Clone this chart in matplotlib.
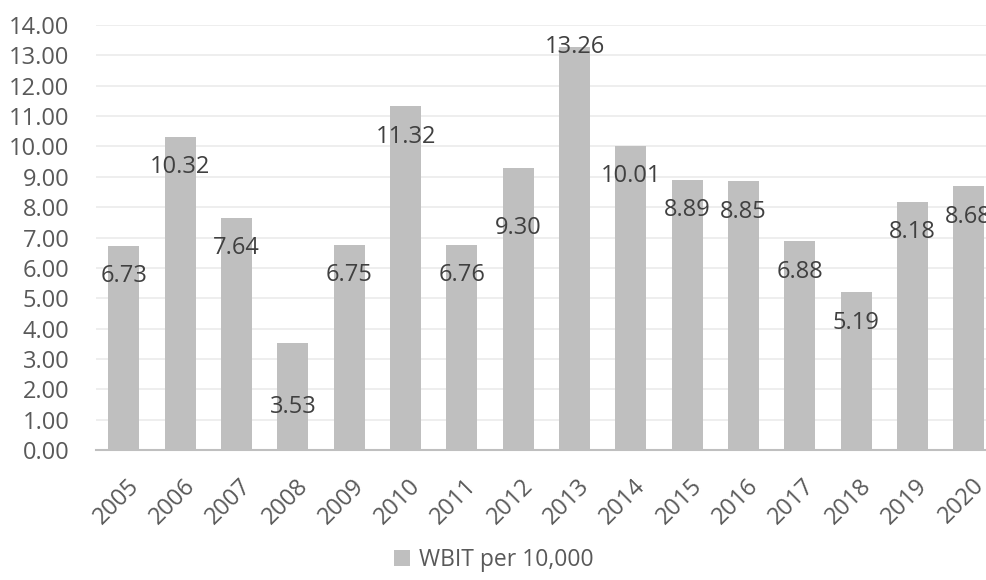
import matplotlib
matplotlib.use("Agg")
import matplotlib.pyplot as plt
import matplotlib.transforms as mtransforms
import numpy as np

years = ['2005', '2006', '2007', '2008', '2009', '2010', '2011', '2012',
         '2013', '2014', '2015', '2016', '2017', '2018', '2019', '2020']
wbit = [6.73, 10.32, 7.64, 3.53, 6.75, 11.32, 6.76, 9.30,
        13.26, 10.01, 8.89, 8.85, 6.88, 5.19, 8.18, 8.68]

plt.rcParams['font.family'] = ['Open Sans', 'DejaVu Sans']
txt = '#595959'
bar_col = '#BFBFBF'

fig = plt.figure(figsize=(9.87, 5.80), dpi=100)
ax = fig.add_axes([0.097, 0.224, 0.913, 0.733])

x = np.arange(len(years))
bars = ax.bar(x, wbit, width=0.55, color=bar_col, label='WBIT per 10,000', zorder=2)

# labels sit about one unit under the bar top, a few were moved by hand
shift = {3: 2.1, 7: 2.0, 8: 0.0}
for i, v in enumerate(wbit):
    ax.text(i, v - shift.get(i, 1.0), f'{v:.2f}', ha='center', va='center',
            fontsize=17, color='#404040', zorder=3)

ax.set_xlim(-0.5, len(years) - 0.5)
ax.set_ylim(0, 14)
ax.set_yticks(np.arange(0, 15, 1))
ax.set_yticklabels([f'{t:.2f}' for t in np.arange(0, 15, 1)])
ax.set_xticks(x)
ax.set_xticklabels(years, rotation=45, ha='right', va='top', rotation_mode='anchor')
ax.tick_params(length=0, labelsize=17, colors=txt)
ax.tick_params(axis='y', pad=19)
ax.tick_params(axis='x', pad=17)
off = mtransforms.ScaledTranslation(3 / 100, 0, fig.dpi_scale_trans)
for lab in ax.get_xticklabels():
    lab.set_transform(lab.get_transform() + off)

ax.grid(axis='y', color='#EBEBEB', linewidth=1.2, zorder=0)
for s in ['top', 'right', 'left']:
    ax.spines[s].set_visible(False)
ax.spines['bottom'].set_color('#BFBFBF')
ax.spines['bottom'].set_linewidth(1.5)

fig.legend(handles=[bars], labels=['WBIT per 10,000'], loc='center',
           bbox_to_anchor=(0.5, 0.035), frameon=False, fontsize=16.5,
           handlelength=0.7, handleheight=0.7, handletextpad=0.4, labelcolor=txt)

fig.savefig('out.png', dpi=100)
